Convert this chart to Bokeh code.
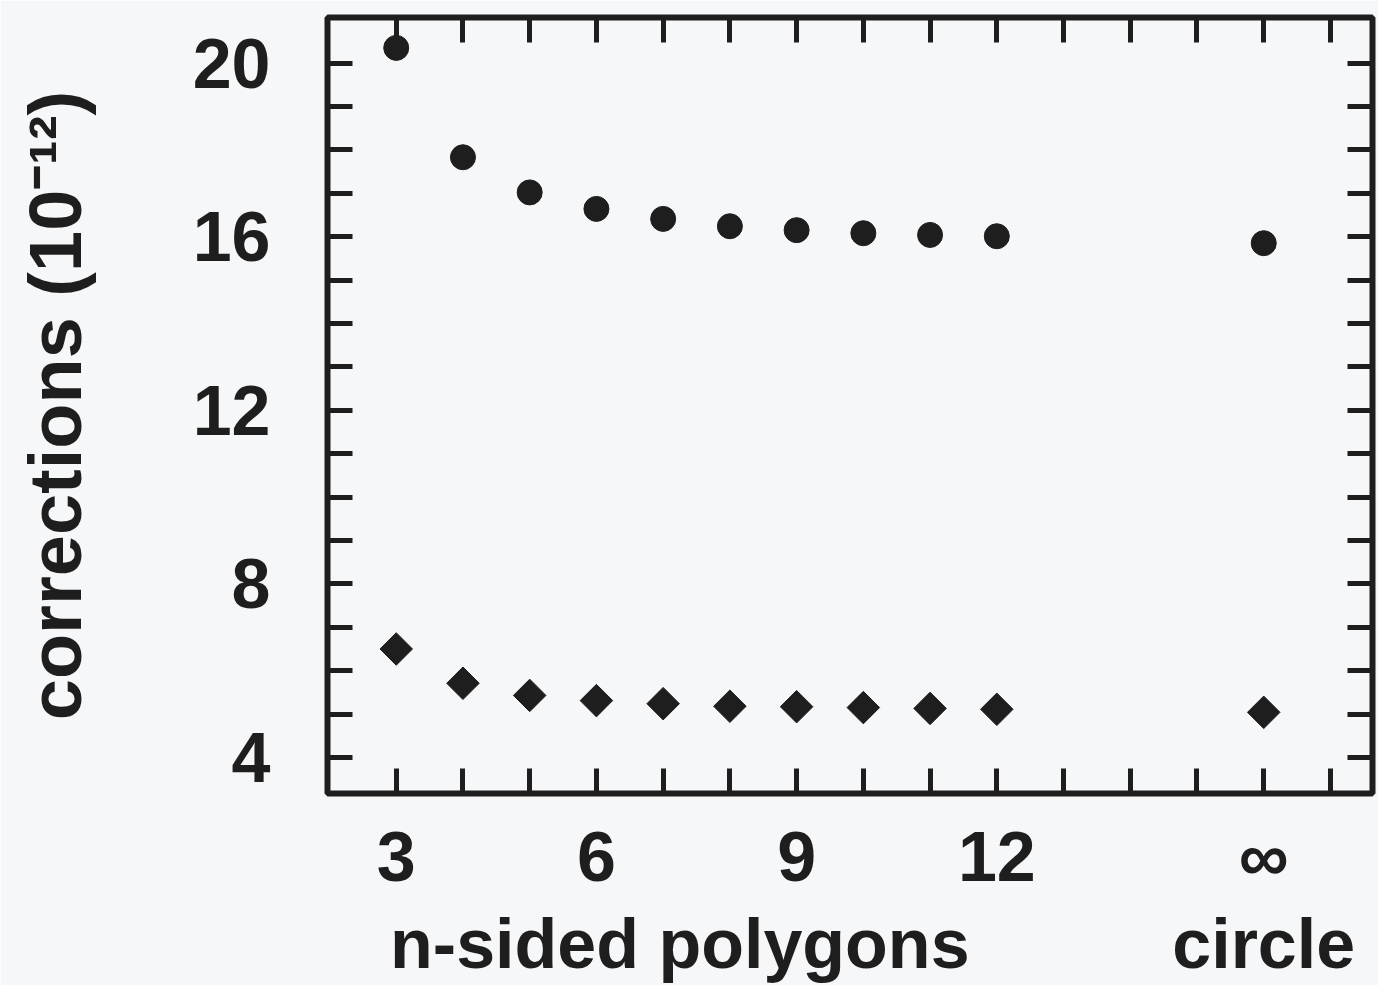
import numpy as np
from bokeh.plotting import figure
from bokeh.models import Range1d, LinearAxis, FixedTicker, ColumnDataSource
from bokeh.embed import file_html
from bokeh.resources import INLINE

# ---- data ----
x_positions = [3, 4, 5, 6, 7, 8, 9, 10, 11, 12, 16]          # 16 stands for the circle (n = infinity)
circle_series = [20.35, 17.83, 17.02, 16.64, 16.41, 16.24, 16.15, 16.08, 16.04, 16.01, 15.85]
diamond_series = [6.50, 5.71, 5.43, 5.31, 5.24, 5.18, 5.17, 5.15, 5.13, 5.11, 5.04]

x_all_ticks = list(range(3, 18))
x_label_ticks = [3, 6, 9, 12, 16]
x_label_text = ["3", "6", "9", "12", "\u221e"]
y_all_ticks = list(range(4, 21))
y_label_ticks = [4, 8, 12, 16, 20]
group_positions = [7.25, 16]
group_labels = ["n-sided polygons", "circle"]
y_title = "corrections (10\u207b\u00b9\u00b2)"

INK = "#1e1e1e"
BG = "#f6f7f9"
FONT = "Liberation Sans"

p = figure(width=1378, height=985, output_backend="svg", toolbar_location=None,
           x_range=Range1d(1.97, 17.63), y_range=Range1d(3.17, 21.05),
           min_border_left=327, min_border_right=6, min_border_top=17, min_border_bottom=192)
p.background_fill_color = BG
p.border_fill_color = BG
p.outline_line_color = INK
p.outline_line_width = 6
p.xgrid.visible = False
p.ygrid.visible = False

src = ColumnDataSource(dict(x=x_positions, c=circle_series, d=diamond_series))
p.scatter("x", "c", source=src, marker="circle", size=25, fill_color=INK, line_color=INK)
p.scatter("x", "d", source=src, marker="square", angle=np.pi / 4, size=23,
          fill_color=INK, line_color=INK)


def style_ticks(ax, major, minor):
    ax.ticker = FixedTicker(ticks=major, minor_ticks=minor)
    ax.axis_line_color = None
    for kind in ("major", "minor"):
        setattr(ax, kind + "_tick_in", 25)
        setattr(ax, kind + "_tick_out", 0)
        setattr(ax, kind + "_tick_line_width", 5)
        setattr(ax, kind + "_tick_line_color", INK)
    ax.major_label_text_font = FONT
    ax.major_label_text_font_style = "bold"
    ax.major_label_text_color = INK


# bottom axis (ticks + numbers)
bx = p.xaxis[0]
style_ticks(bx, x_label_ticks, [t for t in x_all_ticks if t not in x_label_ticks])
bx.major_label_overrides = dict(zip(x_label_ticks, x_label_text))
bx.major_label_text_font_size = "70px"
bx.major_label_standoff = 24

# left axis
ly = p.yaxis[0]
style_ticks(ly, y_label_ticks, [t for t in y_all_ticks if t not in y_label_ticks])
ly.major_label_text_font_size = "70px"
ly.major_label_standoff = 57
ly.axis_label = y_title
ly.axis_label_text_font = FONT
ly.axis_label_text_font_style = "bold"
ly.axis_label_text_font_size = "74px"
ly.axis_label_text_color = INK
ly.axis_label_standoff = 93

# top and right axes: ticks only (all drawn as minor ticks, so no labels exist)
top = LinearAxis()
style_ticks(top, [], x_all_ticks)
p.add_layout(top, "above")
right = LinearAxis()
style_ticks(right, [], y_all_ticks)
p.add_layout(right, "right")

# second bottom axis carrying the group titles
titles = LinearAxis()
titles.ticker = FixedTicker(ticks=group_positions, minor_ticks=[])
titles.major_label_overrides = dict(zip(group_positions, group_labels))
titles.axis_line_color = None
titles.major_tick_line_color = None
titles.minor_tick_line_color = None
titles.major_label_text_font = FONT
titles.major_label_text_font_style = "bold"
titles.major_label_text_font_size = "70px"
titles.major_label_text_color = INK
titles.major_label_standoff = 0
p.add_layout(titles, "below")

open("out.html", "w").write(file_html(p, INLINE))
